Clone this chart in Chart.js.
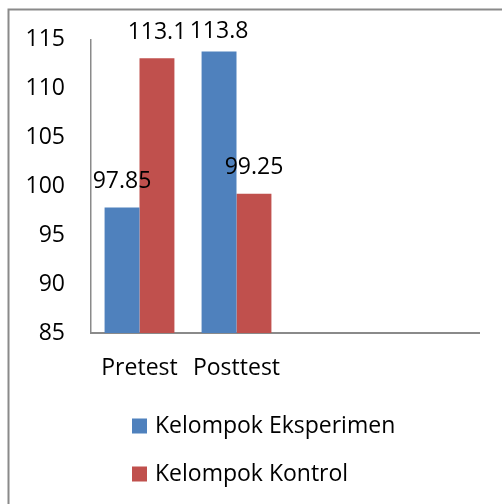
<!DOCTYPE html>
<html>
<head>
<meta charset="utf-8">
<script src="https://cdn.jsdelivr.net/npm/chart.js@4/dist/chart.umd.min.js"></script>
<style>
  html, body { margin: 0; padding: 0; background: #ffffff; }
  #wrap { position: relative; width: 502px; height: 504px; }
</style>
</head>
<body>
<div id="wrap"><canvas id="c" width="502" height="504"></canvas></div>
<script>
const categories = ['Pretest', 'Posttest', '', ''];
const eksperimen = [97.85, 113.8, null, null];
const kontrol = [113.1, 99.25, null, null];
const seriesNames = ['Kelompok Eksperimen', 'Kelompok Kontrol'];
const seriesColors = ['#4F81BD', '#C0504D'];
const yTicks = [85, 90, 95, 100, 105, 110, 115];

const FONT = '"Open Sans", "Noto Sans", sans-serif';
const FS = 23;

const labelPlugin = {
  id: 'labels',
  beforeDraw(chart) {
    const ctx = chart.ctx;
    ctx.save();
    ctx.strokeStyle = '#8a8a8a';
    ctx.lineWidth = 2;
    ctx.beginPath();
    ctx.moveTo(8.5, 504);
    ctx.lineTo(8.5, 9.5);
    ctx.lineTo(502, 9.5);
    ctx.stroke();
    ctx.restore();
  },
  afterDatasetsDraw(chart) {
    const ctx = chart.ctx;
    ctx.save();
    ctx.font = FS + 'px ' + FONT;
    ctx.fillStyle = '#000';
    ctx.textAlign = 'center';
    ctx.textBaseline = 'middle';
    chart.data.datasets.forEach((ds, di) => {
      const meta = chart.getDatasetMeta(di);
      meta.data.forEach((el, i) => {
        const v = ds.data[i];
        if (v === null || v === undefined) return;
        const y = Math.max(el.y - 26, 31);
        ctx.fillText(String(v), el.x, y);
      });
    });
    // legend
    const items = chart.data.datasets;
    items.forEach((ds, di) => {
      const cy = 426 + di * 48;
      ctx.fillStyle = ds.backgroundColor;
      ctx.fillRect(132, cy - 7.5, 15, 15);
      ctx.fillStyle = '#000';
      ctx.textAlign = 'left';
      ctx.fillText(ds.label, 155, cy);
    });
    ctx.restore();
  }
};

new Chart(document.getElementById('c'), {
  type: 'bar',
  data: {
    labels: categories,
    datasets: [
      { label: seriesNames[0], data: eksperimen, backgroundColor: seriesColors[0], borderWidth: 0 },
      { label: seriesNames[1], data: kontrol, backgroundColor: seriesColors[1], borderWidth: 0 }
    ]
  },
  options: {
    responsive: false,
    animation: false,
    events: [],
    layout: { padding: { left: 0, top: 39, right: 23, bottom: 0 } },
    datasets: { bar: { barPercentage: 1.0, categoryPercentage: 0.72 } },
    plugins: { legend: { display: false }, tooltip: { enabled: false } },
    scales: {
      x: {
        grid: { display: false, drawTicks: false },
        border: { display: true, color: '#8a8a8a', width: 2 },
        ticks: { color: '#000', font: { family: FONT, size: FS }, padding: 22, maxRotation: 0, autoSkip: false },
        afterFit(s) { s.height = 171; }
      },
      y: {
        min: 85,
        max: 115,
        afterBuildTicks(s) { s.ticks = yTicks.map(v => ({ value: v })); },
        grid: { display: false, drawTicks: false },
        border: { display: true, color: '#8a8a8a', width: 1.5 },
        ticks: { color: '#000', font: { family: FONT, size: FS }, padding: 26 },
        afterFit(s) { s.width = 91; }
      }
    }
  },
  plugins: [labelPlugin]
});
</script>
</body>
</html>
